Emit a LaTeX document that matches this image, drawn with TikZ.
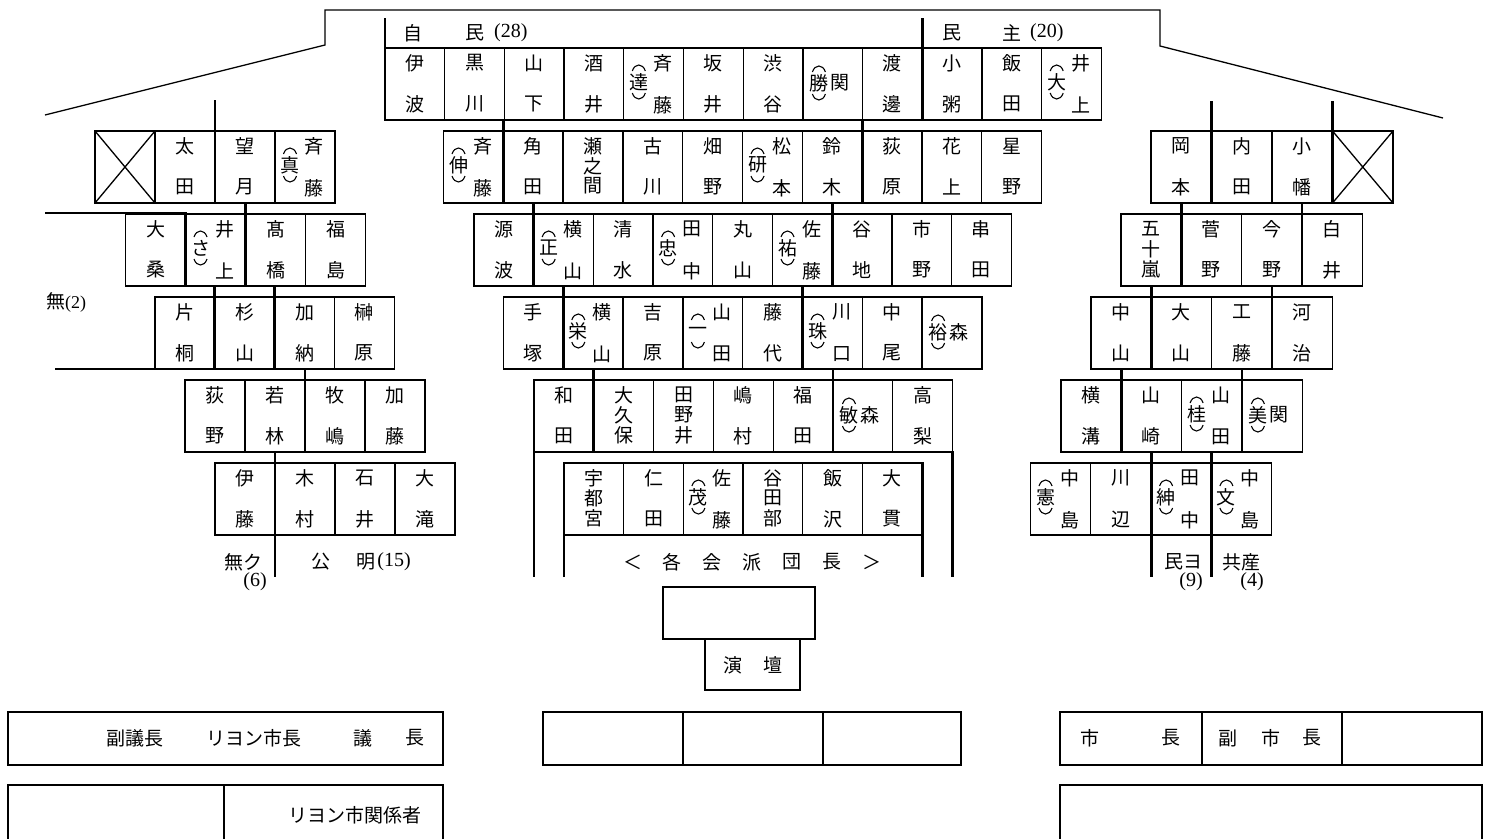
\documentclass[tikz,border=0pt]{standalone}
\usepackage{fontspec}
\setmainfont{Noto Sans CJK JP}
\newfontfamily\lat{Liberation Serif}
\newcommand\chf{\fontsize{19pt}{19pt}\selectfont}
\newcommand\latf{\fontsize{20pt}{20pt}\selectfont\lat}
\tikzset{
  cell/.style={draw, line width=1.3pt, minimum height=72pt, inner sep=0pt, outer sep=0pt, anchor=north west},
  ch/.style={inner sep=0pt, font=\chf},
  thk/.style={line width=2.8pt, line join=miter},
  thinln/.style={line width=1.3pt},
  arcln/.style={line width=1.1pt},
  lbl/.style={inner sep=0pt, font=\chf},
  frame/.style={draw, line width=1.3pt, inner sep=0pt, outer sep=0pt, anchor=north west}
}
\newcounter{sc}
\newcommand\srow[3]{\xdef\cx{#1}\xdef\cy{#2}\xdef\cw{#3}}
\newcommand\mk{\stepcounter{sc}\xdef\sid{s\arabic{sc}}\node[cell, minimum width=\cw pt] (\sid) at (\cx,\cy) {};}
\newcommand\adv{\pgfmathparse{\cx+\cw}\xdef\cx{\pgfmathresult}}
\newcommand\arcs[2]{%
  \draw[arcln] ({#1-6.5},{#2-11}) .. controls ({#1-4},{#2-19}) and ({#1+4},{#2-19}) .. ({#1+6.5},{#2-11});
  \draw[arcln] ({#1-6.5},{#2+11}) .. controls ({#1-4},{#2+19}) and ({#1+4},{#2+19}) .. ({#1+6.5},{#2+11});}
\newcommand\stwo[2]{\mk
  \node[ch] (\sid a) at ({\cx+\cw/2},{\cy+15}) {#1};
  \node[ch] (\sid b) at ({\cx+\cw/2},{\cy+56}) {#2};\adv}
\newcommand\sthree[3]{\mk
  \node[ch] (\sid a) at ({\cx+\cw/2},{\cy+15}) {#1};
  \node[ch] (\sid b) at ({\cx+\cw/2},{\cy+35}) {#2};
  \node[ch] (\sid c) at ({\cx+\cw/2},{\cy+55}) {#3};\adv}
\newcommand\spar[3]{\mk
  \node[ch] (\sid p) at ({\cx+15},{\cy+34}) {#1};
  \arcs{\cx+15}{\cy+34}
  \node[ch] (\sid a) at ({\cx+39},{\cy+15}) {#2};
  \node[ch] (\sid b) at ({\cx+39},{\cy+57}) {#3};\adv}
\newcommand\sside[2]{\mk
  \node[ch] (\sid p) at ({\cx+16},{\cy+35}) {#1};
  \arcs{\cx+16}{\cy+35}
  \node[ch] (\sid a) at ({\cx+37},{\cy+35}) {#2};\adv}
\newcommand\scross{\mk
  \draw[thinln] (\sid.north west) -- (\sid.south east) (\sid.north east) -- (\sid.south west);\adv}
\begin{document}
\begin{tikzpicture}[x=1pt,y=-1pt]
\useasboundingbox (0,0) rectangle (1499,838);
% roof
\draw[thinln] (45,115) -- (325,45) -- (325,10) -- (1160,10) -- (1160,46) -- (1443,118);
% header labels
\node[lbl] (h1) at (413,33) {自};
\node[lbl] (h2) at (475,33) {民};
\node[lbl,anchor=west] (h3) at (494,33) {\latf (28)};
\node[lbl] (h4) at (952,33) {民};
\node[lbl] (h5) at (1012,33) {主};
\node[lbl,anchor=west] (h6) at (1030,33) {\latf (20)};
% center rows
\srow{385}{48}{59.7}
\stwo{伊}{波}\stwo{黒}{川}\stwo{山}{下}\stwo{酒}{井}\spar{達}{斉}{藤}\stwo{坂}{井}\stwo{渋}{谷}\sside{勝}{関}\stwo{渡}{邊}\stwo{小}{粥}\stwo{飯}{田}\spar{大}{井}{上}
\srow{443.5}{131}{59.8}
\spar{伸}{斉}{藤}\stwo{角}{田}\sthree{瀬}{之}{間}\stwo{古}{川}\stwo{畑}{野}\spar{研}{松}{本}\stwo{鈴}{木}\stwo{荻}{原}\stwo{花}{上}\stwo{星}{野}
\srow{474}{214}{59.7}
\stwo{源}{波}\spar{正}{横}{山}\stwo{清}{水}\spar{忠}{田}{中}\stwo{丸}{山}\spar{祐}{佐}{藤}\stwo{谷}{地}\stwo{市}{野}\stwo{串}{田}
\srow{503.5}{297}{59.8}
\stwo{手}{塚}\spar{栄}{横}{山}\stwo{吉}{原}\spar{一}{山}{田}\stwo{藤}{代}\spar{珠}{川}{口}\stwo{中}{尾}\sside{裕}{森}
\srow{534}{380}{59.8}
\stwo{和}{田}\sthree{大}{久}{保}\sthree{田}{野}{井}\stwo{嶋}{村}\stwo{福}{田}\sside{敏}{森}\stwo{高}{梨}
\srow{564}{463}{59.7}
\sthree{宇}{都}{宮}\stwo{仁}{田}\spar{茂}{佐}{藤}\sthree{谷}{田}{部}\stwo{飯}{沢}\stwo{大}{貫}
% left wing
\srow{95}{131}{60}
\scross\stwo{太}{田}\stwo{望}{月}\spar{真}{斉}{藤}
\srow{125.5}{214}{60}
\stwo{大}{桑}\spar{さ}{井}{上}\stwo{髙}{橋}\stwo{福}{島}
\srow{155}{297}{59.8}
\stwo{片}{桐}\stwo{杉}{山}\stwo{加}{納}\stwo{榊}{原}
\srow{185}{380}{60}
\stwo{荻}{野}\stwo{若}{林}\stwo{牧}{嶋}\stwo{加}{藤}
\srow{215}{463}{60}
\stwo{伊}{藤}\stwo{木}{村}\stwo{石}{井}\stwo{大}{滝}
% right wing
\srow{1151}{131}{60.5}
\stwo{岡}{本}\stwo{内}{田}\stwo{小}{幡}\scross
\srow{1121}{214}{60.3}
\sthree{五}{十}{嵐}\stwo{菅}{野}\stwo{今}{野}\stwo{白}{井}
\srow{1091}{297}{60.3}
\stwo{中}{山}\stwo{大}{山}\stwo{工}{藤}\stwo{河}{治}
\srow{1061}{380}{60.3}
\stwo{横}{溝}\stwo{山}{崎}\spar{桂}{山}{田}\sside{美}{関}
\srow{1030.5}{463}{60.3}
\spar{憲}{中}{島}\stwo{川}{辺}\spar{紳}{田}{中}\spar{文}{中}{島}
% thick party boundaries
\draw[thk] (385,18) -- (385,120) -- (503.3,120) -- (503.3,203) -- (533.7,203) -- (533.7,286) -- (563.3,286) -- (563.3,369) -- (593.8,369) -- (593.8,452) -- (534,452) -- (534,577);
\draw[thk] (922.3,18) -- (922.3,120) -- (862.3,120) -- (862.3,203) -- (832.2,203) -- (832.2,286) -- (802.5,286) -- (802.5,369) -- (833,369) -- (833,452) -- (952.6,452) -- (952.6,577);
\draw[thk] (564,577) -- (564,463) -- (922.2,463) -- (922.2,577);
\draw[thk] (45,213) -- (185.5,213) -- (185.5,286) -- (214.8,286) -- (214.8,369) -- (55,369);
\draw[thk] (215,100) -- (215,203) -- (245.5,203) -- (245.5,286) -- (274.6,286) -- (274.6,369) -- (305,369) -- (305,452) -- (275,452) -- (275,577);
\draw[thk] (185.5,286) -- (274.6,286);
\draw[thk] (185,452) -- (305,452);
\draw[thk] (1211.5,101) -- (1211.5,203) -- (1181.3,203) -- (1181.3,286) -- (1151.3,286) -- (1151.3,369) -- (1121.3,369) -- (1121.3,452) -- (1151.1,452) -- (1151.1,577);
\draw[thk] (1332.5,101) -- (1332.5,203) -- (1301.9,203) -- (1301.9,286) -- (1271.9,286) -- (1271.9,369) -- (1241.9,369) -- (1241.9,452) -- (1211.4,452) -- (1211.4,577);
\draw[thk] (1121.3,380) -- (1241.9,380);
\draw[thk] (1121.3,452) -- (1241.9,452);
% group labels
\node[lbl,anchor=west] (l1) at (46,302) {無{\fontsize{18pt}{18pt}\selectfont\lat (2)}};
\node[lbl] (l2) at (243,562) {無ク};
\node[lbl] (l3) at (255,582) {\latf (6)};
\node[lbl] (l4) at (321,562) {公};
\node[lbl] (l5) at (366,562) {明};
\node[lbl] (l6) at (394,562) {\latf (15)};
\node[lbl] (l7) at (1183,562) {民ヨ};
\node[lbl] (l8) at (1191,582) {\latf (9)};
\node[lbl] (l9) at (1241,562) {共産};
\node[lbl] (l10) at (1252,582) {\latf (4)};
\node[lbl] (g1) at (633,562) {＜};
\node[lbl] (g2) at (672,562) {各};
\node[lbl] (g3) at (712,562) {会};
\node[lbl] (g4) at (752,562) {派};
\node[lbl] (g5) at (792,562) {団};
\node[lbl] (g6) at (832,562) {長};
\node[lbl] (g7) at (872,562) {＞};
% podium
\node[frame, minimum width=152pt, minimum height=52pt] (pod) at (663,587) {};
\node[frame, minimum width=95pt, minimum height=51pt] (podb) at (705,639) {};
\node[lbl] (pt1) at (733,665) {演};
\node[lbl] (pt2) at (773,665) {壇};
% bottom boxes
\node[frame, minimum width=435pt, minimum height=53pt] (b1) at (8,712) {};
\node[lbl] (b1a) at (135,738) {副議長};
\node[lbl] (b1b) at (254,738) {リヨン市長};
\node[lbl] (b1c) at (363,738) {議};
\node[lbl] (b1d) at (415,738) {長};
\coordinate (b2l) at (8,840);
\coordinate (b2r) at (443,840);
\draw[thinln] (b2l) -- (8,785) -- (443,785) -- (b2r);
\draw[thinln] (224,785) -- (224,840);
\node[lbl] (b2a) at (355,815) {リヨン市関係者};
\node[frame, minimum width=418pt, minimum height=53pt] (b3) at (543,712) {};
\draw[thinln] (683,712) -- (683,765) (823,712) -- (823,765);
\node[frame, minimum width=422pt, minimum height=53pt] (b4) at (1060,712) {};
\draw[thinln] (1202,712) -- (1202,765) (1342,712) -- (1342,765);
\node[lbl] (b4a) at (1090,738) {市};
\node[lbl] (b4b) at (1171,738) {長};
\node[lbl] (b4c) at (1228,738) {副};
\node[lbl] (b4d) at (1271,738) {市};
\node[lbl] (b4e) at (1312,738) {長};
\draw[thinln] (1060,840) -- (1060,785) -- (1482,785) -- (1482,840);
\end{tikzpicture}
\end{document}
